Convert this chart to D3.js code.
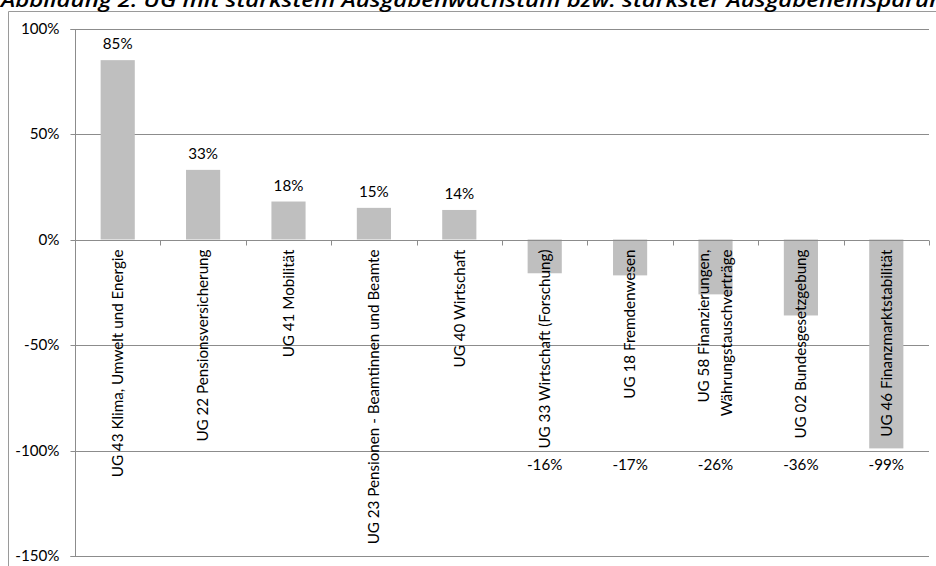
<!DOCTYPE html>
<html><head><meta charset="utf-8">
<script src="https://cdn.jsdelivr.net/npm/d3@7"></script>
<style>html,body{margin:0;padding:0;background:#fff;overflow:hidden}</style>
</head><body>
<svg id="c" width="936" height="566"></svg>
<script>
const categories = [
  ["UG 43 Klima, Umwelt und Energie"],
  ["UG 22 Pensionsversicherung"],
  ["UG 41 Mobilität"],
  ["UG 23 Pensionen - Beamtinnen und Beamte"],
  ["UG 40 Wirtschaft"],
  ["UG 33 Wirtschaft (Forschung)"],
  ["UG 18 Fremdenwesen"],
  ["UG 58 Finanzierungen,", "Währungstauschverträge"],
  ["UG 02 Bundesgesetzgebung"],
  ["UG 46 Finanzmarktstabilität"]
];
const values = [0.85, 0.33, 0.18, 0.15, 0.14, -0.16, -0.17, -0.26, -0.36, -0.99];
const yTicks = [1.0, 0.5, 0, -0.5, -1.0, -1.5];
const title = "Abbildung 2: UG mit stärkstem Ausgabenwachstum bzw. stärkster Ausgabeneinsparung";

(function () {
const svg = d3.select("#c");
const font = "Lato, 'Open Sans', sans-serif";
const fs = 15.2;
const mLeft = 75, mRight = 929, mTop = 28.5, mBottom = 556;

// frame
svg.append("line").attr("x1", 8.5).attr("x2", 936).attr("y1", 11.5).attr("y2", 11.5).attr("stroke", "#9a9a9a");
svg.append("line").attr("x1", 8.5).attr("x2", 8.5).attr("y1", 11.5).attr("y2", 566).attr("stroke", "#9a9a9a");

// title
svg.append("text").attr("x", 1).attr("y", 7)
  .attr("font-family", "'Open Sans', sans-serif").attr("font-style", "italic").attr("font-weight", 600)
  .attr("font-size", 19).attr("fill", "#000")
  .attr("textLength", 955).attr("lengthAdjust", "spacingAndGlyphs")
  .text(title);

const x = d3.scaleBand().domain(d3.range(categories.length)).range([mLeft, mRight]).paddingInner(0).paddingOuter(0);
const y = d3.scaleLinear().domain([-1.5, 1.0]).range([mBottom, mTop]);
const fmt0 = d3.format(".0%");
const fmt = v => fmt0(v).replace("\u2212", "-");
const py = v => Math.round(y(v)) + 0.5;

// gridlines
svg.append("g").selectAll("line").data(yTicks).join("line")
  .attr("x1", mLeft).attr("x2", mRight)
  .attr("y1", d => py(d)).attr("y2", d => py(d))
  .attr("stroke", "#8c8c8c").attr("stroke-width", 1);

// y axis
const yAxis = svg.append("g").attr("transform", `translate(${mLeft + 0.5},0)`)
  .call(d3.axisLeft(y).tickValues(yTicks).tickFormat(fmt).tickSize(5).tickPadding(11).offset(0));
yAxis.select(".domain").attr("stroke", "#8c8c8c").attr("d", `M-5,${py(1)}H0V${py(-1.5)}H-5`);
yAxis.selectAll(".tick line").attr("stroke", "#8c8c8c");
yAxis.selectAll(".tick").attr("transform", d => `translate(0,${py(d)})`);
yAxis.selectAll("text").attr("font-family", font).attr("font-size", fs).attr("fill", "#000");

// bars
const bw = x.bandwidth() * 0.4;
svg.append("g").selectAll("rect").data(values).join("rect")
  .attr("x", (d, i) => x(i) + (x.bandwidth() - bw) / 2)
  .attr("width", bw)
  .attr("y", d => y(Math.max(0, d)))
  .attr("height", d => Math.abs(y(d) - y(0)))
  .attr("fill", "#bfbfbf");

// x axis at zero
const y0 = py(0);
svg.append("line").attr("x1", mLeft).attr("x2", mRight).attr("y1", y0).attr("y2", y0).attr("stroke", "#8c8c8c");
svg.append("g").selectAll("line").data(d3.range(categories.length + 1)).join("line")
  .attr("x1", i => Math.round(mLeft + i * x.step()) + 0.5).attr("x2", i => Math.round(mLeft + i * x.step()) + 0.5)
  .attr("y1", y0).attr("y2", y0 + 5).attr("stroke", "#8c8c8c");

// value labels
svg.append("g").selectAll("text").data(values).join("text")
  .attr("x", (d, i) => x(i) + x.bandwidth() / 2)
  .attr("y", d => d > 0 ? y(d) - 16 : y(-1.0) + 14)
  .attr("dy", "0.35em")
  .attr("text-anchor", "middle")
  .attr("font-family", font).attr("font-size", fs).attr("fill", "#000")
  .text(d => fmt(d));

// category labels (rotated)
const cl = svg.append("g").selectAll("text").data(categories).join("text")
  .attr("transform", (d, i) => `translate(${x(i) + x.bandwidth() / 2},${y0 + 9}) rotate(-90)`)
  .attr("text-anchor", "end")
  .attr("font-family", font).attr("font-size", fs).attr("fill", "#000");
cl.selectAll("tspan").data(d => d.map((t, k) => ({t, k, n: d.length}))).join("tspan")
  .attr("x", 0)
  .attr("y", d => (d.k - (d.n - 1) / 2) * 23)
  .attr("dy", "0.35em")
  .text(d => d.t);
})();
</script>
</body></html>
